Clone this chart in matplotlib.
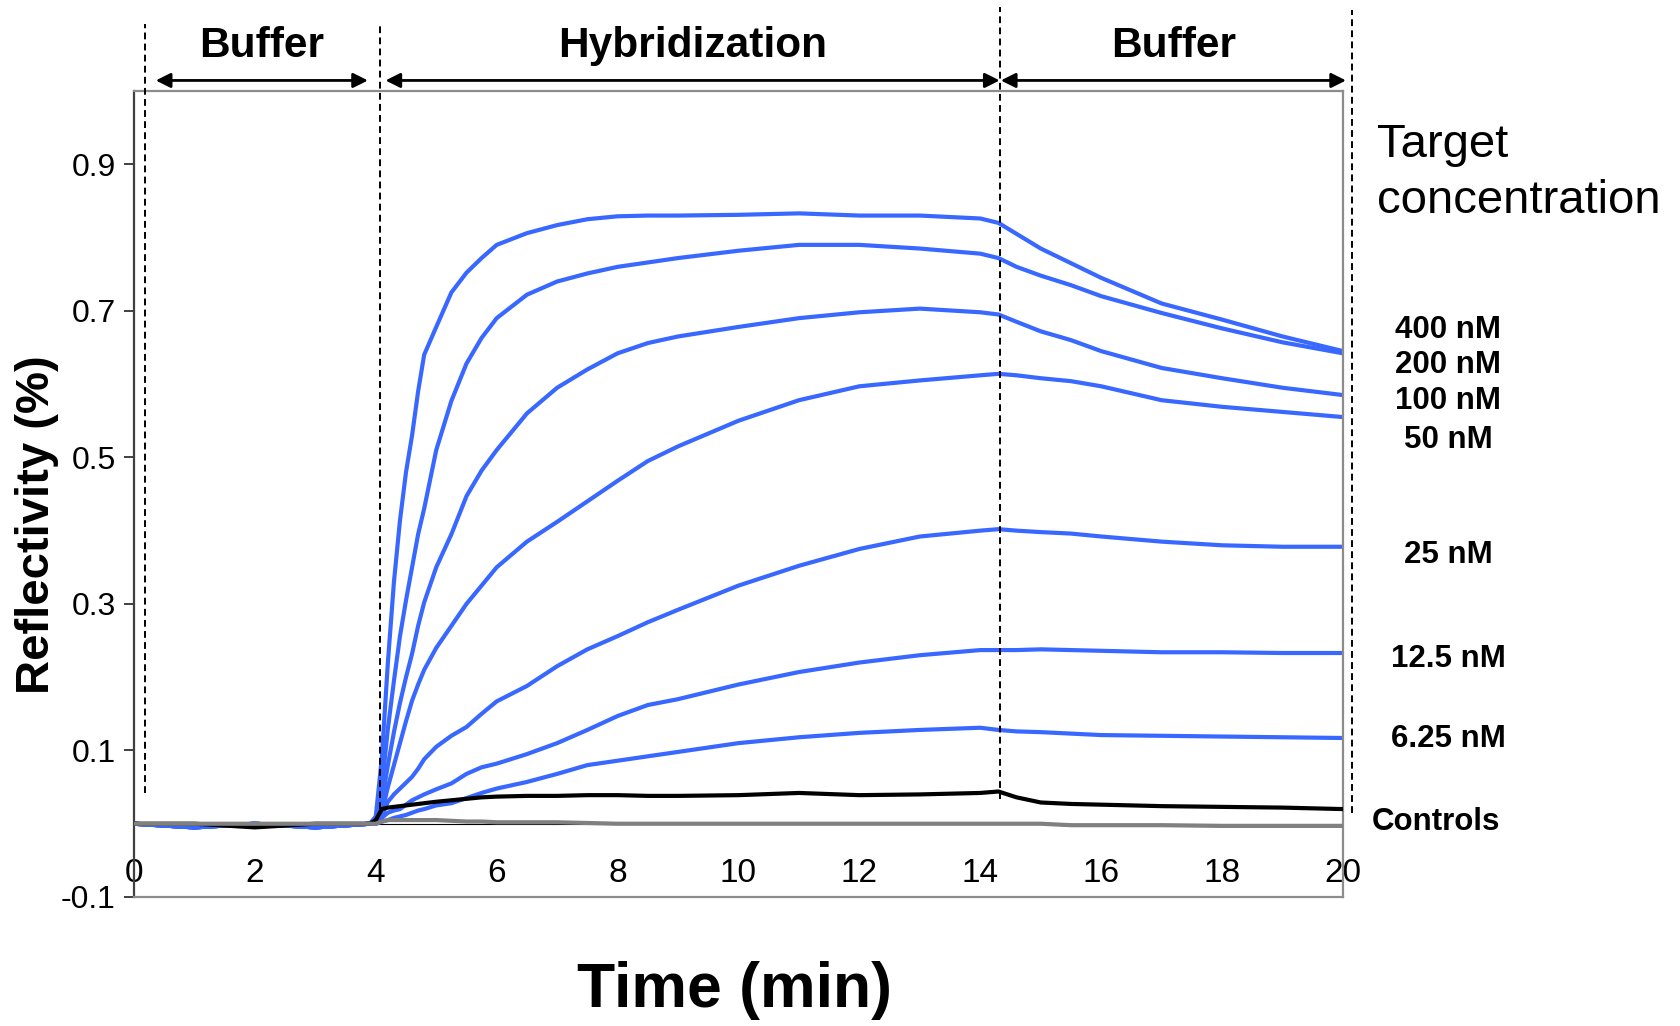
import matplotlib
matplotlib.use("Agg")
import matplotlib.pyplot as plt

W, H, DPI = 1681, 1026, 100
FONT = "Liberation Sans"
BLUE = "#3868ff"

# time axis (min)
time = [0, 1, 2, 3, 3.9, 4.0, 4.1, 4.2, 4.3, 4.4, 4.5, 4.6, 4.7, 4.8,
        5.0, 5.25, 5.5, 5.75, 6.0, 6.5, 7.0, 7.5, 8.0, 8.5, 9.0,
        10, 11, 12, 13, 14, 14.3, 14.6, 15, 15.5, 16, 17, 18, 19, 20]

# reflectivity (%) per target concentration
nm400 = [0.0, -0.005, 0.0, -0.005, 0.0, 0.01, 0.09, 0.22, 0.33, 0.414, 0.48, 0.53, 0.59, 0.64,
         0.678, 0.725, 0.752, 0.772, 0.79, 0.806, 0.817, 0.825, 0.829, 0.83, 0.83,
         0.831, 0.833, 0.83, 0.83, 0.826, 0.82, 0.805, 0.785, 0.765, 0.745, 0.71, 0.688, 0.665, 0.645]
nm200 = [0.0, -0.005, 0.0, -0.005, 0.0, 0.005, 0.05, 0.13, 0.195, 0.256, 0.305, 0.35, 0.395, 0.43,
         0.51, 0.577, 0.628, 0.663, 0.69, 0.722, 0.74, 0.751, 0.76, 0.766, 0.772,
         0.782, 0.79, 0.79, 0.785, 0.778, 0.772, 0.76, 0.748, 0.735, 0.72, 0.697, 0.676, 0.657, 0.642]
nm100 = [0.0, -0.005, 0.0, -0.005, 0.0, 0.0, 0.03, 0.08, 0.125, 0.165, 0.2, 0.232, 0.27, 0.302,
         0.35, 0.395, 0.447, 0.482, 0.51, 0.56, 0.595, 0.62, 0.642, 0.656, 0.665,
         0.678, 0.69, 0.698, 0.703, 0.698, 0.695, 0.685, 0.672, 0.66, 0.645, 0.622, 0.608, 0.595, 0.585]
nm50 = [0.0, -0.005, 0.0, -0.005, 0.0, 0.0, 0.015, 0.05, 0.08, 0.11, 0.14, 0.168, 0.19, 0.21,
        0.24, 0.27, 0.3, 0.325, 0.35, 0.385, 0.412, 0.44, 0.468, 0.495, 0.515,
        0.55, 0.578, 0.597, 0.605, 0.612, 0.614, 0.612, 0.608, 0.604, 0.597, 0.578, 0.569, 0.562, 0.555]
nm25 = [0.0, -0.005, 0.0, -0.005, 0.0, 0.0, 0.01, 0.03, 0.04, 0.048, 0.056, 0.064, 0.075, 0.088,
        0.105, 0.12, 0.132, 0.15, 0.167, 0.188, 0.215, 0.238, 0.256, 0.275, 0.292,
        0.325, 0.352, 0.375, 0.392, 0.4, 0.402, 0.4, 0.398, 0.396, 0.392, 0.385, 0.38, 0.378, 0.378]
nm12_5 = [0.0, -0.005, 0.0, -0.005, 0.0, 0.0, 0.008, 0.015, 0.018, 0.02, 0.026, 0.032, 0.036, 0.04,
          0.047, 0.055, 0.068, 0.077, 0.082, 0.095, 0.11, 0.128, 0.147, 0.162, 0.17,
          0.19, 0.207, 0.22, 0.23, 0.237, 0.237, 0.237, 0.238, 0.237, 0.236, 0.234, 0.234, 0.233, 0.233]
nm6_25 = [0.0, -0.005, 0.0, -0.005, 0.0, 0.0, 0.003, 0.005, 0.008, 0.01, 0.012, 0.015, 0.018, 0.02,
          0.025, 0.028, 0.035, 0.042, 0.048, 0.057, 0.068, 0.08, 0.086, 0.092, 0.098,
          0.11, 0.118, 0.124, 0.128, 0.131, 0.128, 0.126, 0.125, 0.123, 0.121, 0.12, 0.119, 0.118, 0.117]
ctrl_black = [0.0, 0.0, -0.005, 0.0, 0.0, 0.005, 0.02, 0.022, 0.023, 0.024, 0.025, 0.026, 0.027, 0.028,
              0.03, 0.032, 0.034, 0.036, 0.037, 0.038, 0.038, 0.039, 0.039, 0.038, 0.038,
              0.039, 0.042, 0.039, 0.04, 0.042, 0.044, 0.036, 0.029, 0.027, 0.026, 0.024, 0.023, 0.022, 0.02]
ctrl_gray = [0.0, 0.0, 0.0, 0.0, 0.0, 0.0, 0.003, 0.005, 0.005, 0.005, 0.005, 0.005, 0.005, 0.005,
             0.005, 0.004, 0.003, 0.003, 0.002, 0.002, 0.002, 0.001, 0.0, 0.0, 0.0,
             0.0, 0.0, 0.0, 0.0, 0.0, 0.0, 0.0, 0.0, -0.002, -0.002, -0.002, -0.003, -0.003, -0.003]

blue_series = [nm400, nm200, nm100, nm50, nm25, nm12_5, nm6_25]
conc_labels = ["400 nM", "200 nM", "100 nM", "50 nM", "25 nM", "12.5 nM", "6.25 nM"]

phase_names = ["Buffer", "Hybridization", "Buffer"]
phase_lines = [0.18, 4.07, 14.33, 20.15]
phase_arrows = [(0.36, 3.87), (4.16, 14.32), (14.34, 20.05)]

plt.rcParams['font.family'] = [FONT, 'DejaVu Sans']


def fx(px):
    return px / W


def fy(py):
    return 1 - py / H


fig = plt.figure(figsize=(W / DPI, H / DPI), dpi=DPI)
ax = fig.add_axes([fx(134), fy(897), (1343 - 134) / W, (897 - 91) / H])

ax.axhline(0, color='black', lw=0.8, zorder=1)
for y in blue_series:
    ax.plot(time, y, color=BLUE, lw=3.0, zorder=2)
ax.plot(time, ctrl_black, color='black', lw=3.0, zorder=3)
ax.plot(time, ctrl_gray, color='#808080', lw=3.0, zorder=4)

ax.set_xlim(0, 20)
ax.set_ylim(-0.1, 1.0)
yt = [-0.1, 0.1, 0.3, 0.5, 0.7, 0.9]
ax.set_yticks(yt)
ax.set_yticklabels(['{:g}'.format(v) for v in yt])
ax.set_xticks(range(0, 21, 2))
ax.tick_params(axis='x', length=0, pad=-28, labelsize=24)
ax.tick_params(axis='y', direction='out', length=7, width=1.4,
               color='#404040', labelsize=23, pad=6)
for side in ('top', 'right', 'bottom'):
    ax.spines[side].set_color('#8c8c8c')
    ax.spines[side].set_linewidth(1.6)
ax.spines['left'].set_color('#404040')
ax.spines['left'].set_linewidth(1.6)

# phase boundaries
line_tops = [1.091, 1.091, 1.115, 1.111]
line_bots = [0.042, 0.02, 0.034, 0.014]
for t, top, bot in zip(phase_lines, line_tops, line_bots):
    ax.plot([t, t], [bot, top], color='black', lw=1.4, ls=(0, (3.5, 2.2)),
            clip_on=False, zorder=5)
for (a, b), name in zip(phase_arrows, phase_names):
    ax.annotate('', xy=(b, 1.0144), xytext=(a, 1.0144), annotation_clip=False,
                arrowprops=dict(arrowstyle='<|-|>', color='black', lw=2,
                                mutation_scale=22, shrinkA=0, shrinkB=0))
    ax.text((a + b) / 2, 1.062, name, ha='center', va='center',
            fontsize=30.5, fontweight='bold', clip_on=False)

# labels
fig.text(fx(37), fy(525), 'Reflectivity (%)', rotation=90, ha='center', va='center',
         fontsize=34, fontweight='bold')
fig.text(fx(735), fy(990), 'Time (min)', ha='center', va='center',
         fontsize=45, fontweight='bold')
fig.text(fx(1377), fy(157), 'Target', ha='left', va='baseline', fontsize=34)
fig.text(fx(1377), fy(213), 'concentration', ha='left', va='baseline', fontsize=34)

label_base = [338, 373, 409, 448, 563, 667, 747]
for lab, yb in zip(conc_labels, label_base):
    fig.text(fx(1448), fy(yb), lab, ha='center', va='baseline',
             fontsize=22.5, fontweight='bold')
fig.text(fx(1436), fy(830), 'Controls', ha='center', va='baseline',
         fontsize=22.5, fontweight='bold')

fig.savefig('out.png', dpi=DPI)
